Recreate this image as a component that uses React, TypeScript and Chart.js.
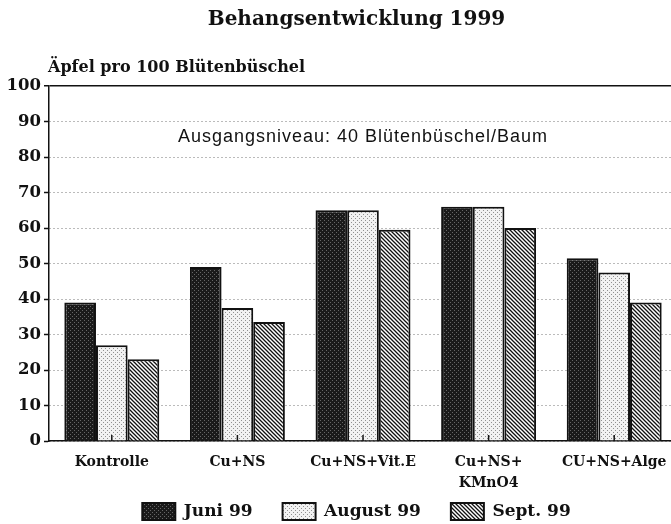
import { useEffect, useRef } from 'react';
import { Chart, registerables } from 'chart.js';

Chart.register(...registerables);

const chartTitle = 'Behangsentwicklung 1999';
const yTitle = 'Äpfel pro 100 Blütenbüschel';
const noteText = 'Ausgangsniveau: 40 Blütenbüschel/Baum';
const noteCategory = 2;
const noteValue = 85.5;

const categories: (string | string[])[] = ['Kontrolle', 'Cu+NS', 'Cu+NS+Vit.E', ['Cu+NS+', 'KMnO4'], 'CU+NS+Alge'];
const seriesNames = ['Juni 99', 'August 99', 'Sept. 99'];
const juni = [39, 49, 65, 66, 51.5];
const august = [27, 37.5, 65, 66, 47.5];
const sept = [23, 33.5, 59.5, 60, 39];
const yTicks = [0, 10, 20, 30, 40, 50, 60, 70, 80, 90, 100];

function makePattern(kind: 'dark' | 'light' | 'hatch'): CanvasPattern | string {
  const c = document.createElement('canvas');
  c.width = 4;
  c.height = 4;
  const g = c.getContext('2d');
  if (!g) return '#888';
  if (kind === 'dark') {
    g.fillStyle = '#1a1a1a';
    g.fillRect(0, 0, 4, 4);
    g.fillStyle = '#666666';
    g.fillRect(0, 0, 1, 1);
    g.fillRect(2, 2, 1, 1);
  } else if (kind === 'light') {
    g.fillStyle = '#f2f2f2';
    g.fillRect(0, 0, 4, 4);
    g.fillStyle = '#909090';
    g.fillRect(1, 0, 1, 1);
    g.fillRect(3, 2, 1, 1);
  } else {
    g.fillStyle = '#ffffff';
    g.fillRect(0, 0, 4, 4);
    g.strokeStyle = '#111111';
    g.lineWidth = 1.3;
    g.beginPath();
    g.moveTo(-1, -1); g.lineTo(5, 5);
    g.moveTo(-1, 3); g.lineTo(1, 5);
    g.moveTo(3, -1); g.lineTo(5, 1);
    g.stroke();
  }
  return g.createPattern(c, 'repeat') || '#888';
}

const decorPlugin = {
  id: 'decor',
  afterDraw(chart: any) {
    const { ctx, chartArea, scales } = chart;
    const x = scales.x;
    const y = scales.y;
    ctx.save();
    ctx.fillStyle = '#111';
    ctx.textBaseline = 'middle';
    ctx.textAlign = 'left';
    ctx.font = 'bold 16px "DejaVu Serif"';
    ctx.fillText(yTitle, chartArea.left - 1, chartArea.top - 18);
    ctx.font = '18px "Liberation Sans"';
    try { (ctx as any).letterSpacing = '1px'; } catch (e) { /* ignore */ }
    ctx.textAlign = 'center';
    ctx.fillText(noteText, x.getPixelForValue(noteCategory), y.getPixelForValue(noteValue));
    try { (ctx as any).letterSpacing = '0px'; } catch (e) { /* ignore */ }
    ctx.strokeStyle = '#111';
    ctx.lineWidth = 1.5;
    categories.forEach((_, i) => {
      const px = x.getPixelForValue(i);
      ctx.beginPath();
      ctx.moveTo(px, chartArea.bottom);
      ctx.lineTo(px, chartArea.bottom - 6);
      ctx.stroke();
    });
    ctx.restore();
  },
};

export default function App() {
  const ref = useRef<HTMLCanvasElement | null>(null);
  useEffect(() => {
    document.documentElement.style.overflow = 'hidden';
    document.body.style.overflow = 'hidden';
    const canvas = ref.current;
    if (!canvas) return;
    const fills = [makePattern('dark'), makePattern('light'), makePattern('hatch')];
    const values = [juni, august, sept];
    const chart = new Chart(canvas, {
      type: 'bar',
      data: {
        labels: categories,
        datasets: seriesNames.map((name, i) => ({
          label: name,
          data: values[i],
          backgroundColor: fills[i] as any,
          borderColor: '#111',
          borderWidth: 2,
          barPercentage: 1,
          categoryPercentage: 0.756,
        })),
      },
      plugins: [decorPlugin],
      options: {
        responsive: false,
        animation: false,
        devicePixelRatio: 1,
        layout: { padding: { left: 36, right: 0, top: 0, bottom: 0 } },
        plugins: {
          title: {
            display: true,
            text: chartTitle,
            color: '#111',
            font: { family: 'DejaVu Serif', weight: 'bold', size: 20 },
            padding: { top: 8, bottom: 54 },
          },
          legend: {
            position: 'bottom',
            labels: {
              boxWidth: 33,
              boxHeight: 17,
              padding: 30,
              color: '#111',
              font: { family: 'DejaVu Serif', weight: 'bold', size: 17 },
            },
          },
          tooltip: { enabled: false },
        },
        scales: {
          x: {
            grid: { display: false },
            border: { display: true, color: '#111', width: 1.5 },
            ticks: {
              color: '#111',
              font: { family: 'DejaVu Serif', weight: 'bold', size: 14, lineHeight: 1.5 },
              padding: 3,
              maxRotation: 0,
              autoSkip: false,
            },
            afterFit: (s: any) => {
              s.height = 32;
              s._computeLabelArea = () => undefined;
            },
          },
          y: {
            min: 0,
            max: 100,
            afterBuildTicks: (s: any) => { s.ticks = yTicks.map((v) => ({ value: v })); },
            ticks: {
              color: '#111',
              font: { family: 'DejaVu Serif', weight: 'bold', size: 16.5 },
              padding: 3,
            },
            grid: {
              color: (c: any) => (c.tick && c.tick.value === 100 ? '#111' : '#777'),
              lineWidth: (c: any) => (c.tick && c.tick.value === 100 ? 1.5 : 1),
              tickColor: '#111',
              tickLength: 5,
              tickWidth: 1.5,
            },
            border: {
              display: true,
              color: '#111',
              width: 1.5,
              dash: (c: any) => (c.tick && c.tick.value === 100 ? [] : [1, 3]),
            },
            afterFit: (s: any) => {
              s.width = 13;
              s._computeLabelArea = () => undefined;
            },
          },
        },
      },
    });
    return () => chart.destroy();
  }, []);
  return (
    <canvas
      ref={ref}
      width={677}
      height={530}
      style={{ position: 'fixed', left: 0, top: 0, width: 677, height: 530 }}
    />
  );
}
